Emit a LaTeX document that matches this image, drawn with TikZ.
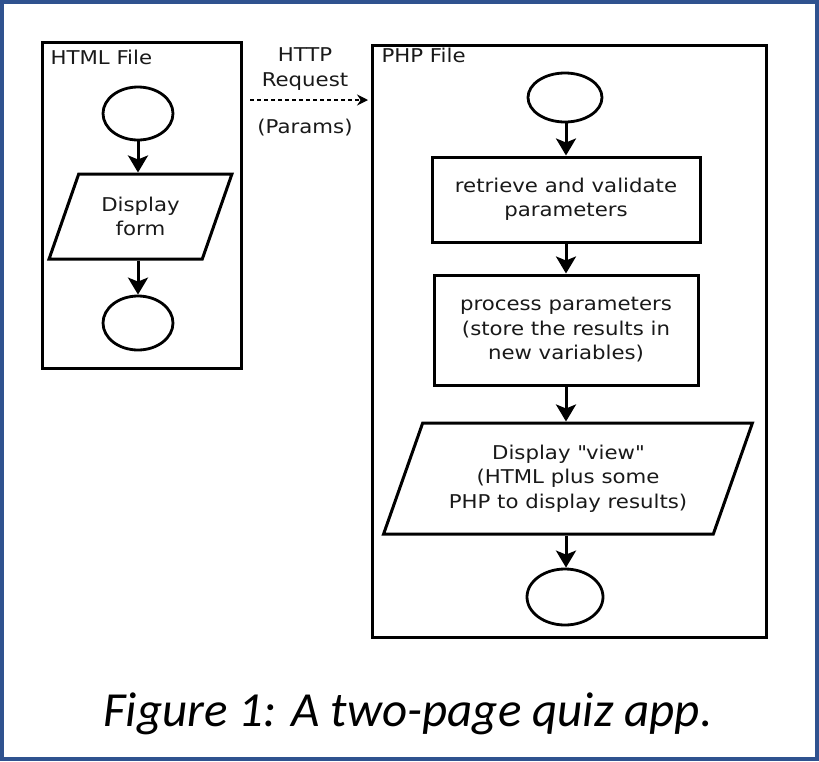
\documentclass[tikz,border=0pt]{standalone}
\usepackage{fontspec}
\setmainfont{DejaVu Sans}[FakeStretch=1.12]
\newfontfamily\capfont{Carlito}
\usetikzlibrary{shapes.geometric, arrows.meta}
\definecolor{framebl}{RGB}{47,82,143}

\begin{document}
\begin{tikzpicture}[x=1pt, y=-1pt,
  lbl/.style={font=\fontsize{19}{24.5}\selectfont, text=black!90, align=center},
  filebox/.style={draw, line width=3pt, inner sep=0pt},
  term/.style={ellipse, draw, line width=2.8pt, inner sep=0pt},
  procbox/.style={rectangle, draw, line width=3pt, lbl},
  iobox/.style={trapezium, trapezium left angle=66, trapezium right angle=114,
    trapezium stretches=true, draw, line width=3pt, lbl},
  flow/.style={-{Stealth[length=17pt,width=20pt,inset=4pt]}, line width=3pt},
  req/.style={-{Stealth[length=11pt,width=11pt]}, line width=1.3pt, dash pattern=on 4pt off 3pt}
]
  \useasboundingbox (0,0) rectangle (819,761);
  \draw[framebl, line width=4pt] (2,2) rectangle (817,759);

  % HTML FILE
  \node[filebox, minimum width=199, minimum height=326] (htmlbox) at (141.5,205) {};
  \node[lbl, anchor=west] (htmltitle) at (47,57) {HTML File};
  \node[term, minimum width=70, minimum height=53] (hstart) at (138,113.5) {};
  \node[iobox, minimum width=183, minimum height=85] (hform) at (140.5,216.5) {Display\\form};
  \node[term, minimum width=70, minimum height=54] (hend) at (138,323) {};
  \draw[flow] (hstart.south) -- (hstart.south |- hform.north);
  \draw[flow] (hend.north |- hform.south) -- (hend.north);

  % REQUEST
  \coordinate (reqa) at (250,100);
  \coordinate (reqb) at (368,100);
  \draw[req] (reqa) -- (reqb);
  \node[lbl] (reqlbl) at (305,69) {HTTP\\Request};
  \node[lbl] (params) at (305,128) {(Params)};

  % PHP FILE
  \node[filebox, minimum width=394, minimum height=592] (phpbox) at (569,341) {};
  \node[lbl, anchor=west] (phptitle) at (378,55) {PHP File};
  \node[term, minimum width=74, minimum height=49] (pstart) at (565,97.5) {};
  \node[procbox, minimum width=268, minimum height=85] (fetch) at (566,199.5)
    {retrieve and validate\\parameters};
  \node[procbox, minimum width=264, minimum height=110] (work) at (566,330)
    {process parameters\\(store the results in\\new variables)};
  \node[iobox, minimum width=370, minimum height=111] (view) at (568,478.5)
    {Display \textquotedbl view\textquotedbl\\(HTML plus some\\PHP to display results)};
  \node[term, minimum width=76, minimum height=56] (pend) at (565,597) {};
  \draw[flow] (pstart.south -| fetch.north) -- (fetch.north);
  \draw[flow] (fetch) -- (work);
  \draw[flow] (work.south) -- (work.south |- view.north);
  \draw[flow] (work.south |- view.south) -- (work.south |- pend.north);

  % CAPTION
  \node[font=\capfont\itshape\fontsize{49}{55}\selectfont, anchor=base] (caption) at (408,726)
    {Figure 1: A two-page quiz app.};
\end{tikzpicture}
\end{document}
